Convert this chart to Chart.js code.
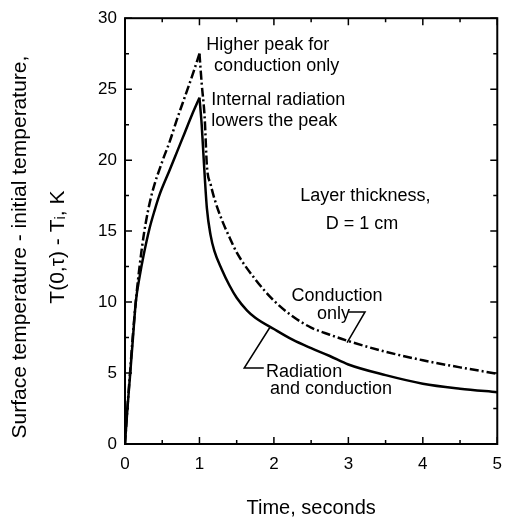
<!DOCTYPE html>
<html><head><meta charset="utf-8">
<script src="https://cdn.jsdelivr.net/npm/chart.js@4.4.0/dist/chart.umd.min.js"></script>
<style>html,body{margin:0;padding:0;background:#fff}#wrap{width:512px;height:520px}</style>
</head><body><div id="wrap"><canvas id="c" width="512" height="520"></canvas></div>
<script>
// ---- data ----
const timeCond = [0, 0.03, 0.066, 0.1, 0.15, 0.2, 0.26, 0.35, 0.5, 0.6, 0.7, 0.8, 0.9, 1.0,
                  1.03, 1.07, 1.1, 1.15, 1.2, 1.3, 1.4, 1.5, 1.75, 2.0, 2.25, 2.5, 2.75, 3.0, 3.5, 4.0, 4.5, 5.0];
const tempCond = [0, 2.4, 4.9, 7.3, 10.3, 12.7, 15.0, 17.4, 19.9, 21.3, 22.9, 24.4, 25.9, 27.5,
                  25.4, 23.0, 19.6, 18.3, 17.3, 15.8, 14.6, 13.5, 11.6, 10.1, 9.0, 8.2, 7.7, 7.25, 6.5, 5.9, 5.4, 4.95];
const timeRad  = [0, 0.03, 0.066, 0.1, 0.145, 0.2, 0.25, 0.33, 0.4, 0.46, 0.6, 0.7, 0.8, 0.9, 1.0,
                  1.03, 1.06, 1.1, 1.15, 1.2, 1.3, 1.4, 1.5, 1.64, 1.75, 2.0, 2.25, 2.5, 2.75, 3.0, 3.5, 4.0, 4.5, 5.0];
const tempRad  = [0, 2.3, 4.7, 7.0, 10.0, 11.9, 13.3, 15.2, 16.5, 17.5, 19.3, 20.6, 21.9, 23.2, 24.4,
                  22.5, 19.8, 16.6, 14.7, 13.6, 12.3, 11.2, 10.3, 9.4, 8.9, 8.1, 7.35, 6.75, 6.2, 5.6, 4.85, 4.25, 3.9, 3.65];
const xTicks = [0, 1, 2, 3, 4, 5];
const yTicks = [0, 5, 10, 15, 20, 25, 30];
const xTitle = 'Time, seconds';
const yTitle = ['Surface temperature - initial temperature,', 'T(0,\u03c4) - T\u1d62, K'];
const noteText = ['Higher peak for', 'conduction only', 'Internal radiation', 'lowers the peak',
                  'Layer thickness,', 'D = 1 cm', 'Conduction', 'only', 'Radiation', 'and conduction'];
// anchor of each note line (data units: time, temperature)
const noteX = [1.092, 1.197, 1.158, 1.158, 2.355, 2.697, 2.237, 2.579, 1.895, 1.947];
const noteY = [28.12, 26.66, 24.21, 22.75, 17.45, 15.49, 10.40, 9.14, 5.09, 3.84];
// leader lines (data units)
const leaderCondX = [3.0, 3.224, 2.983];
const leaderCondY = [9.30, 9.30, 7.14];
const leaderRadX = [1.864, 1.601, 1.943];
const leaderRadY = [5.35, 5.35, 8.19];

const FONT = "'Liberation Sans', Arial, Helvetica, sans-serif";
Chart.defaults.font.family = FONT;
Chart.defaults.color = '#000';

function splitAtPeak(ts, vs) {
  const k = vs.indexOf(Math.max(...vs));
  const pts = ts.map((t, i) => ({x: t, y: vs[i]}));
  return [pts.slice(0, k + 1), pts.slice(k)];
}
const [condUp, condDown] = splitAtPeak(timeCond, tempCond);
const [radUp, radDown] = splitAtPeak(timeRad, tempRad);

function ds(label, data, dash) {
  return {label, data, borderColor: '#000', borderWidth: 2.5, borderDash: dash,
          pointRadius: 0, fill: false, cubicInterpolationMode: 'monotone'};
}
const DD = [9, 3, 2, 3];

const frameTicks = {
  id: 'frameTicks',
  afterDatasetsDraw(chart) {
    const {ctx, chartArea: a, scales: {x, y}} = chart;
    ctx.save();
    ctx.strokeStyle = '#000';
    ctx.lineWidth = 2;
    ctx.strokeRect(a.left, a.top, a.right - a.left, a.bottom - a.top);
    ctx.lineWidth = 1.5;
    ctx.beginPath();
    for (let i = 0; i < xTicks.length; i++) {
      const vals = [xTicks[i]];
      if (i < xTicks.length - 1) vals.push((xTicks[i] + xTicks[i + 1]) / 2);
      vals.forEach((v, j) => {
        const px = x.getPixelForValue(v), L = j === 0 ? 7 : 4;
        ctx.moveTo(px, a.bottom); ctx.lineTo(px, a.bottom - L);
        ctx.moveTo(px, a.top); ctx.lineTo(px, a.top + L);
      });
    }
    for (let i = 0; i < yTicks.length; i++) {
      const vals = [yTicks[i]];
      if (i < yTicks.length - 1) vals.push((yTicks[i] + yTicks[i + 1]) / 2);
      vals.forEach((v, j) => {
        const py = y.getPixelForValue(v), L = j === 0 ? 7 : 4;
        ctx.moveTo(a.left, py); ctx.lineTo(a.left + L, py);
        ctx.moveTo(a.right, py); ctx.lineTo(a.right - L, py);
      });
    }
    ctx.stroke();
    // y-axis title, two rotated lines
    ctx.fillStyle = '#000';
    ctx.font = '21px ' + FONT;
    ctx.textAlign = 'center';
    ctx.textBaseline = 'middle';
    const cy = (a.top + a.bottom) / 2 + 16;
    [20, 58].forEach((cx, i) => {
      ctx.save();
      ctx.translate(cx, cy);
      ctx.rotate(-Math.PI / 2);
      ctx.fillText(yTitle[i], 0, 0);
      ctx.restore();
    });
    ctx.restore();
  }
};

const notes = {
  id: 'notes',
  afterDatasetsDraw(chart) {
    const {ctx, scales: {x, y}} = chart;
    ctx.save();
    ctx.fillStyle = '#000';
    ctx.font = '18px ' + FONT;
    ctx.textAlign = 'left';
    ctx.textBaseline = 'middle';
    noteText.forEach((t, i) => ctx.fillText(t, x.getPixelForValue(noteX[i]), y.getPixelForValue(noteY[i])));
    ctx.strokeStyle = '#000';
    ctx.lineWidth = 1.5;
    [[leaderCondX, leaderCondY], [leaderRadX, leaderRadY]].forEach(([lx, ly]) => {
      ctx.beginPath();
      lx.forEach((v, i) => {
        const px = x.getPixelForValue(v), py = y.getPixelForValue(ly[i]);
        if (i === 0) ctx.moveTo(px, py); else ctx.lineTo(px, py);
      });
      ctx.stroke();
    });
    ctx.restore();
  }
};

new Chart(document.getElementById('c'), {
  type: 'line',
  data: {
    datasets: [
      ds('Conduction only', condUp, DD),
      ds('Conduction only (after peak)', condDown, DD),
      ds('Radiation and conduction', radUp, []),
      ds('Radiation and conduction (after peak)', radDown, [])
    ]
  },
  options: {
    responsive: false,
    animation: false,
    devicePixelRatio: 1,
    layout: {padding: {top: 14, right: 7, left: 0, bottom: 0}},
    plugins: {legend: {display: false}, tooltip: {enabled: false}},
    scales: {
      x: {
        type: 'linear', min: 0, max: 5,
        afterBuildTicks: s => { s.ticks = xTicks.map(v => ({value: v})); },
        afterFit: s => { s.height = 76; },
        grid: {display: false, drawTicks: false},
        border: {display: false},
        ticks: {font: {size: 17}, color: '#000', padding: 10, maxRotation: 0},
        title: {display: true, text: xTitle, font: {size: 20}, color: '#000', padding: {top: 0, bottom: 0}}
      },
      y: {
        type: 'linear', min: 0, max: 30,
        afterBuildTicks: s => { s.ticks = yTicks.map(v => ({value: v})); },
        afterFit: s => { s.width = 125; },
        grid: {display: false, drawTicks: false},
        border: {display: false},
        ticks: {font: {size: 17}, color: '#000', padding: 8},
        title: {display: false, text: yTitle}
      }
    }
  },
  plugins: [frameTicks, notes]
});
</script>
</body></html>
